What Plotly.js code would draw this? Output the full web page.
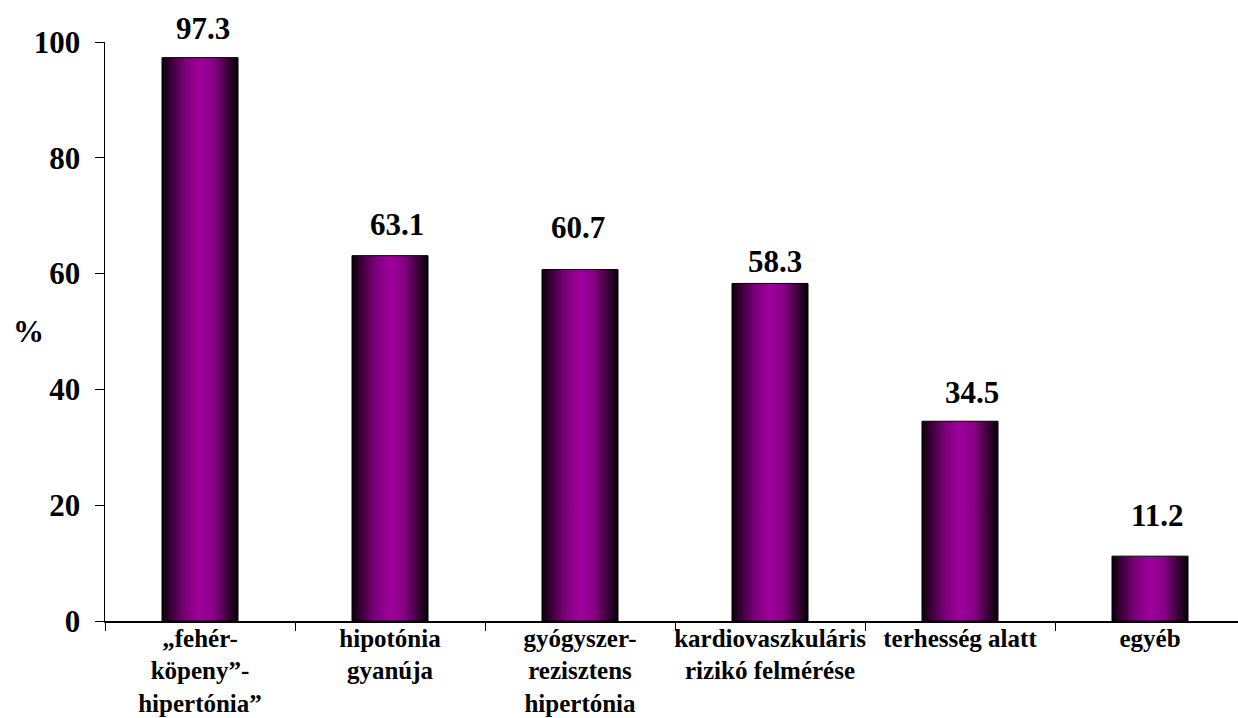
<!DOCTYPE html>
<html>
<head>
<meta charset="utf-8">
<script src="https://cdn.plot.ly/plotly-3.0.1.min.js"></script>
<style>
  html, body { margin: 0; padding: 0; background: #fff; overflow: hidden; }
  #chart { width: 1245px; height: 718px; }
</style>
</head>
<body>
<div id="chart"></div>
<script>
// Indications for ambulatory blood pressure monitoring (%)
const categories = [
  '„fehér-<br>köpeny”-<br>hipertónia”',
  'hipotónia<br>gyanúja',
  'gyógyszer-<br>rezisztens<br>hipertónia',
  'kardiovaszkuláris<br>rizikó felmérése',
  'terhesség alatt',
  'egyéb'
];
const percentages = [97.3, 63.1, 60.7, 58.3, 34.5, 11.2];
const yTicks = [0, 20, 40, 60, 80, 100];

// Pixel nudges for the value labels above each bar: [dx, lift]
const labelNudge = [[3, 10], [7, 12], [-2, 23], [5, 2], [12, 9], [7, 21]];

const serif = 'Liberation Serif, Times New Roman, serif';

const trace = {
  type: 'bar',
  x: categories,
  y: percentages,
  width: 0.4,
  marker: { color: '#990099', line: { color: '#000000', width: 1 } },
  hoverinfo: 'skip'
};

const valueLabels = percentages.map((v, i) => ({
  x: categories[i],
  y: v,
  xref: 'x',
  yref: 'y',
  text: '<b>' + v.toFixed(1) + '</b>',
  showarrow: false,
  xanchor: 'center',
  yanchor: 'bottom',
  xshift: labelNudge[i][0],
  yshift: labelNudge[i][1],
  font: { family: serif, size: 31, color: '#000' }
}));

const layout = {
  width: 1245,
  height: 718,
  margin: { l: 105, r: 0, t: 42, b: 97 },
  paper_bgcolor: '#ffffff',
  plot_bgcolor: '#ffffff',
  showlegend: false,
  xaxis: {
    type: 'category',
    range: [-0.5, categories.length - 0.5],
    showline: true,
    linecolor: '#000',
    linewidth: 1.5,
    ticks: 'outside',
    tickson: 'boundaries',
    ticklen: 8,
    tickwidth: 1,
    tickcolor: '#000',
    tickangle: 0,
    ticklabelstandoff: -6,
    automargin: false,
    showgrid: false,
    zeroline: false,
    tickfont: { family: serif, size: 25, color: '#000', weight: 'bold' },
    fixedrange: true
  },
  yaxis: {
    range: [0, 100],
    tickvals: yTicks,
    ticktext: yTicks.map(String),
    showline: true,
    linecolor: '#000',
    linewidth: 1.5,
    ticks: 'outside',
    ticklen: 9,
    tickwidth: 1,
    tickcolor: '#000',
    ticklabelstandoff: 8,
    automargin: false,
    showgrid: false,
    zeroline: false,
    tickfont: { family: serif, size: 31, color: '#000', weight: 'bold' },
    fixedrange: true
  },
  annotations: valueLabels.concat([{
    xref: 'paper', yref: 'paper',
    x: -0.067, y: 0.5,
    xanchor: 'center', yanchor: 'middle',
    text: '<b>%</b>',
    showarrow: false,
    font: { family: serif, size: 31, color: '#000' }
  }])
};

Plotly.newPlot('chart', [trace], layout, { staticPlot: true, displayModeBar: false }).then(gd => {
  // Cylinder-like horizontal shading on each bar
  const svg = gd.querySelector('.main-svg');
  let defs = svg.querySelector('defs');
  if (!defs) {
    defs = document.createElementNS('http://www.w3.org/2000/svg', 'defs');
    svg.insertBefore(defs, svg.firstChild);
  }
  const grad = document.createElementNS('http://www.w3.org/2000/svg', 'linearGradient');
  grad.setAttribute('id', 'barShade');
  grad.setAttribute('x1', '0'); grad.setAttribute('y1', '0');
  grad.setAttribute('x2', '1'); grad.setAttribute('y2', '0');
  [['0%', '#0a000a'], ['12%', '#3a0038'], ['30%', '#7a0078'], ['50%', '#9e009c'],
   ['68%', '#880085'], ['86%', '#3e003c'], ['100%', '#050005']].forEach(([o, c]) => {
    const s = document.createElementNS('http://www.w3.org/2000/svg', 'stop');
    s.setAttribute('offset', o);
    s.setAttribute('stop-color', c);
    grad.appendChild(s);
  });
  defs.appendChild(grad);
  gd.querySelectorAll('.trace.bars .point path').forEach(p => {
    p.style.fill = 'url(#barShade)';
  });
});
</script>
</body>
</html>
